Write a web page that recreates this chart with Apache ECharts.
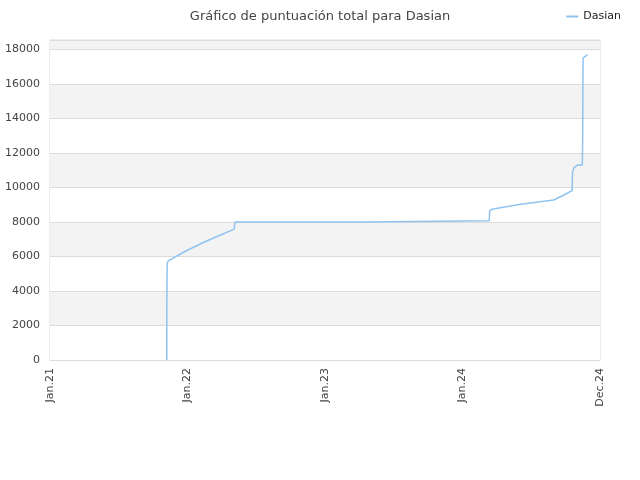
<!DOCTYPE html>
<html>
<head>
<meta charset="utf-8">
<script src="https://cdn.jsdelivr.net/npm/echarts@6/dist/echarts.min.js"></script>
<style>
  html, body { margin: 0; padding: 0; background: #fff; }
  #chart { width: 640px; height: 480px; }
</style>
</head>
<body>
<div id="chart"></div>
<script>
// puntuación total de Dasian (fecha, puntos)
var dates = [
    '2021-11-07', '2021-11-07', '2021-11-08', '2021-11-11', '2021-11-16',
    '2021-12-20', '2022-02-09', '2022-03-25', '2022-05-05', '2022-05-06',
    '2022-05-07', '2023-04-09', '2023-04-10', '2024-03-12', '2024-03-13',
    '2024-03-15', '2024-03-19', '2024-06-03', '2024-08-30', '2024-09-25',
    '2024-10-18', '2024-10-19', '2024-10-23', '2024-11-01', '2024-11-14',
    '2024-11-15', '2024-11-16', '2024-11-17', '2024-11-28'
];
var scores = [
    0, 2800, 5600, 5750, 5855,
    6230, 6780, 7200, 7590, 7800,
    8000, 8000, 8075, 8075, 8640,
    8700, 8735, 9025, 9275, 9550,
    9815, 10860, 11150, 11300, 11300,
    12900, 17500, 17560, 17700
];
var tickDates = ['2021-01-01', '2022-01-01', '2023-01-01', '2024-01-01', '2024-12-31'];
var monthNames = ['Jan', 'Feb', 'Mar', 'Apr', 'May', 'Jun', 'Jul', 'Aug', 'Sep', 'Oct', 'Nov', 'Dec'];

function toTime(d) { return +new Date(d + 'T00:00:00Z'); }

var chart = echarts.init(document.getElementById('chart'));
var seriesData = dates.map(function (d, i) { return [toTime(d), scores[i]]; });
var tickValues = tickDates.map(toTime);

var option = {
    backgroundColor: '#fff',
    animation: false,
    title: {
        text: 'Gráfico de puntuación total para Dasian',
        left: 'center',
        top: 5,
        textStyle: {
            fontFamily: 'DejaVu Sans',
            fontSize: 13,
            fontWeight: 'normal',
            color: '#444'
        }
    },
    legend: {
        right: 14,
        top: 6,
        itemWidth: 12,
        itemHeight: 2,
        icon: 'rect',
        textStyle: { fontFamily: 'DejaVu Sans', fontSize: 11, color: '#222' },
        data: ['Dasian']
    },
    grid: {
        left: 50,
        right: 40,
        top: 40,
        bottom: 120,
        show: true,
        borderColor: '#dcdcdc',
        borderWidth: 1
    },
    xAxis: {
        type: 'value',
        min: tickValues[0],
        max: tickValues[tickValues.length - 1],
        axisLine: { show: true, lineStyle: { color: '#dcdcdc' } },
        axisTick: { show: false },
        splitLine: { show: false },
        axisLabel: {
            customValues: tickValues,
            rotate: 90,
            margin: 8,
            fontFamily: 'DejaVu Sans',
            fontSize: 11,
            color: '#444',
            formatter: function (v) {
                var d = new Date(v);
                return monthNames[d.getUTCMonth()] + '.' + String(d.getUTCFullYear()).slice(2);
            }
        }
    },
    yAxis: {
        type: 'value',
        min: 0,
        max: 18550,
        interval: 2000,
        axisLine: { show: false },
        axisTick: { show: false },
        axisLabel: {
            showMaxLabel: false,
            fontFamily: 'DejaVu Sans',
            fontSize: 11,
            color: '#444',
            margin: 10,
            formatter: function (v) { return String(v); }
        },
        splitLine: { show: true, lineStyle: { color: '#dcdcdc' } },
        splitArea: { show: true, areaStyle: { color: ['#ffffff', '#f3f3f3'] } }
    },
    series: [
        {
            name: 'Dasian',
            type: 'line',
            data: seriesData,
            showSymbol: false,
            symbol: 'none',
            lineStyle: { color: '#90c3f0', width: 1.5 },
            itemStyle: { color: '#90c3f0' }
        }
    ]
};
chart.setOption(option);
window.onresize = chart.resize;
</script>
</body>
</html>
